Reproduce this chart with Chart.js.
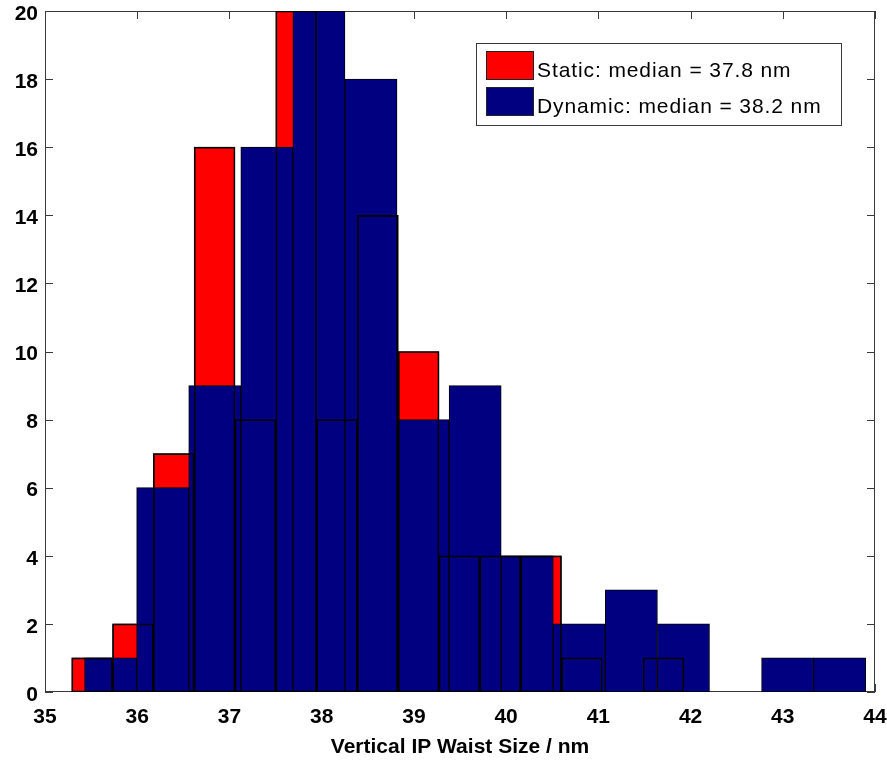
<!DOCTYPE html>
<html>
<head>
<meta charset="utf-8">
<title>Vertical IP waist size</title>
<script src="https://cdn.jsdelivr.net/npm/chart.js@4.4.1/dist/chart.umd.min.js"></script>
<style>
  html, body { margin: 0; padding: 0; background: #fff; }
  #wrap { width: 887px; height: 762px; }
</style>
</head>
<body>
<div id="wrap"><canvas id="hist"></canvas></div>
<script>
// histogram bin centres (nm) and counts (15 bins each)
const staticBins = [35.5113, 35.9538, 36.3963, 36.8388, 37.2813, 37.7238, 38.1663, 38.6088,
                    39.0513, 39.4938, 39.9363, 40.3788, 40.8213, 41.2638, 41.7063];
const staticCounts = [1, 2, 7, 16, 8, 20, 8, 14, 10, 4, 4, 4, 1, 0, 1];

const dynamicBins = [35.7114, 36.2761, 36.8408, 37.4055, 37.9702, 38.5349, 39.0996, 39.6643,
                     40.2290, 40.7937, 41.3584, 41.9231, 42.4878, 43.0525, 43.6172];
const dynamicCounts = [1, 6, 9, 16, 20, 18, 8, 9, 4, 2, 3, 2, 0, 1, 1];

const xRange = [35, 44];   // ticks every 1 nm
const yRange = [0, 20];    // ticks every 2
const seriesLabels = ["Static: median = 37.8 nm", "Dynamic: median = 38.2 nm"];
const xTitle = "Vertical IP Waist Size / nm";

const RED = "#ff0000";
const NAVY = "#000080";
const AXIS = "#3a3a3a";
const FONT = "'Liberation Sans', Arial, Helvetica, sans-serif";

const pts = (xs, ys) => xs.map((x, i) => ({ x, y: ys[i] }));

// box round the axes with inward ticks on all four sides (drawn under the bars)
const axesBox = {
  id: "axesBox",
  beforeDatasetsDraw(chart) {
    const { ctx, chartArea: a } = chart;
    const sx = chart.scales.x, sy = chart.scales.y;
    const len = 8;
    ctx.save();
    ctx.strokeStyle = AXIS;
    ctx.lineWidth = 1;
    ctx.strokeRect(a.left + 0.5, a.top + 0.5, a.right - a.left - 1, a.bottom - a.top - 1);
    ctx.beginPath();
    sx.ticks.forEach((t, i) => {
      const px = Math.round(sx.getPixelForTick(i)) + 0.5;
      ctx.moveTo(px, a.bottom); ctx.lineTo(px, a.bottom - len);
      ctx.moveTo(px, a.top); ctx.lineTo(px, a.top + len);
    });
    sy.ticks.forEach((t, i) => {
      const py = Math.round(sy.getPixelForTick(i)) + 0.5;
      ctx.moveTo(a.left, py); ctx.lineTo(a.left + len, py);
      ctx.moveTo(a.right, py); ctx.lineTo(a.right - len, py);
    });
    ctx.stroke();
    ctx.restore();
  }
};

// boxed legend in the upper right of the axes
const boxLegend = {
  id: "boxLegend",
  afterDraw(chart) {
    const { ctx, chartArea: a } = chart;
    const items = chart.data.datasets.filter(d => d.label);
    const w = 365, h = 82;
    const left = a.right - 34 - w, top = a.top + 32;
    ctx.save();
    ctx.fillStyle = "#fff";
    ctx.fillRect(left, top, w, h);
    ctx.strokeStyle = AXIS;
    ctx.lineWidth = 1;
    ctx.strokeRect(left + 0.5, top + 0.5, w, h);
    ctx.font = "21px " + FONT;
    if ("letterSpacing" in ctx) ctx.letterSpacing = "0.9px";
    ctx.textBaseline = "alphabetic";
    items.forEach((d, i) => {
      const y = top + 8 + i * 36;
      ctx.fillStyle = d.backgroundColor;
      ctx.fillRect(left + 10, y, 47, 28);
      ctx.strokeStyle = "#222";
      ctx.strokeRect(left + 10.5, y + 0.5, 47, 28);
      ctx.fillStyle = "#000";
      ctx.fillText(d.label, left + 61, y + 26);
    });
    ctx.restore();
  }
};

const barStyle = {
  borderColor: "#000",
  borderWidth: 1,
  borderSkipped: false,
  barPercentage: 1,
  categoryPercentage: 1,
  grouped: false
};

new Chart(document.getElementById("hist"), {
  type: "bar",
  data: {
    datasets: [
      Object.assign({ label: seriesLabels[0], data: pts(staticBins, staticCounts),
        backgroundColor: RED, xAxisID: "xs", order: 3 }, barStyle),
      Object.assign({ label: seriesLabels[1], data: pts(dynamicBins, dynamicCounts),
        backgroundColor: NAVY, xAxisID: "x", order: 2 }, barStyle),
      // static bin edges show through the navy bars
      Object.assign({ data: pts(staticBins, staticCounts),
        backgroundColor: "rgba(0,0,0,0)", xAxisID: "xs", order: 1 }, barStyle)
    ]
  },
  options: {
    responsive: true,
    maintainAspectRatio: false,
    animation: false,
    layout: { padding: { top: 11, right: 12, left: 0, bottom: 0 } },
    plugins: { legend: { display: false }, tooltip: { enabled: false } },
    scales: {
      x: {
        type: "linear", position: "bottom", offset: false,
        min: xRange[0], max: xRange[1],
        grid: { display: false, drawTicks: false, offset: false },
        border: { display: false },
        ticks: { stepSize: 1, padding: 13, maxRotation: 0, autoSkip: false,
                 color: "#000", font: { family: FONT, size: 21, weight: "bold" } },
        title: { display: true, text: xTitle, color: "#000", padding: { top: 0, bottom: 2 },
                 font: { family: FONT, size: 21, weight: "bold" } },
        afterFit(s) { s.height = 70; s.paddingLeft = 0; s.paddingRight = 0; }
      },
      xs: {
        type: "linear", position: "bottom", display: false, offset: false,
        min: xRange[0], max: xRange[1],
        grid: { offset: false },
        ticks: { stepSize: 1 }
      },
      y: {
        min: yRange[0], max: yRange[1],
        grid: { display: false, drawTicks: false },
        border: { display: false },
        ticks: { stepSize: 2, padding: 7, labelOffset: 3,
                 color: "#000", font: { family: FONT, size: 21, weight: "bold" } },
        afterFit(s) { s.width = 45; s.paddingTop = 0; s.paddingBottom = 0; }
      }
    }
  },
  plugins: [axesBox, boxLegend]
});
</script>
</body>
</html>
